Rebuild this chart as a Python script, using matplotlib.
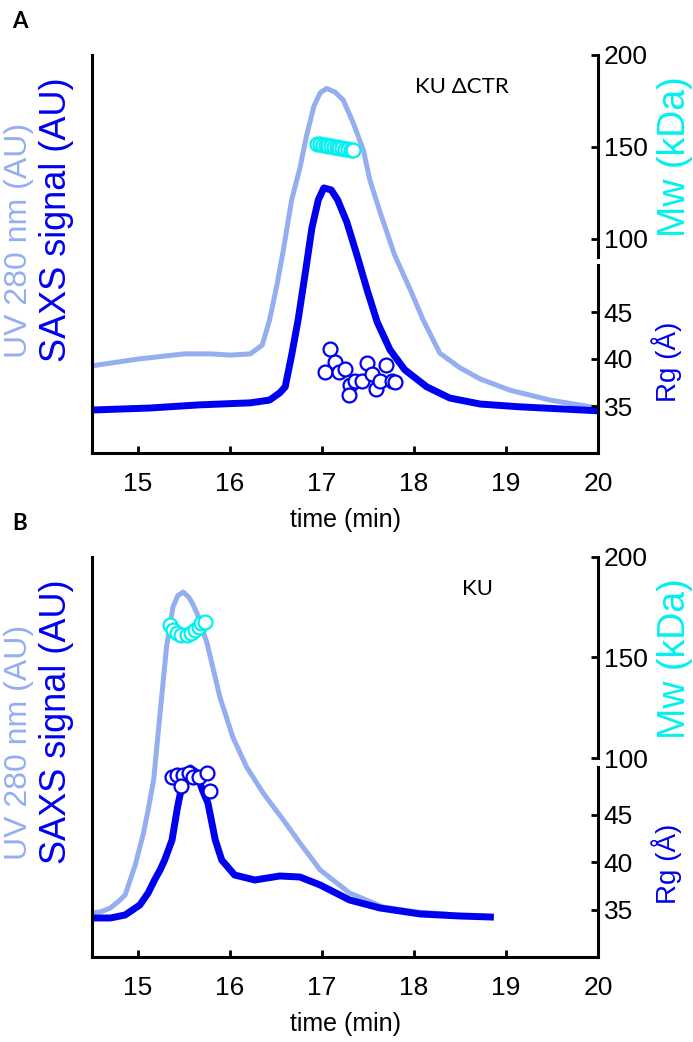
import matplotlib
matplotlib.use("Agg")
import matplotlib.pyplot as plt

UV_COLOR = "#94aef0"
SAXS_COLOR = "#0000f0"
MW_COLOR = "#00f0f0"

# ---- panel A : KU dCTR ----
a_uv_t = [14.5, 15.0, 15.5, 15.8, 16.0, 16.22, 16.35, 16.43, 16.51, 16.58, 16.67, 16.76, 16.83,
          16.91, 16.98, 17.05, 17.14, 17.23, 17.34, 17.45, 17.52, 17.63, 17.79, 17.96, 18.1,
          18.28, 18.5, 18.72, 19.04, 19.48, 20.0]
a_uv = [21.9, 23.6, 24.9, 24.9, 24.6, 24.9, 27.1, 33.4, 42.2, 51.0, 63.6, 71.6, 79.5,
        87.0, 90.5, 91.6, 90.7, 88.7, 82.9, 76.1, 68.6, 60.6, 49.7, 41.0, 33.4,
        25.1, 21.4, 18.6, 15.8, 13.3, 11.3]
a_saxs_t = [14.5, 15.13, 15.67, 16.22, 16.43, 16.54, 16.6, 16.67, 16.74, 16.82, 16.89, 16.96,
            17.02, 17.1, 17.17, 17.27, 17.38, 17.49, 17.6, 17.74, 17.9, 18.14, 18.39,
            18.72, 19.15, 20.0]
a_saxs = [10.8, 11.3, 12.1, 12.6, 13.3, 15.1, 16.6, 24.6, 33.4, 45.5, 56.5, 63.6,
          66.6, 66.1, 63.6, 58.0, 49.7, 41.0, 32.9, 25.9, 20.9, 16.6, 13.8,
          12.3, 11.6, 10.6]
a_mw_t = [16.95, 16.98, 17.01, 17.04, 17.07, 17.10, 17.13, 17.16, 17.19, 17.22, 17.25, 17.28, 17.31, 17.34]
a_mw = [151.5, 151.4, 151.0, 150.8, 150.5, 150.3, 150.0, 149.8, 149.5, 149.3, 149.0, 148.8, 148.5, 148.2]
a_rg_t = [17.09, 17.14, 17.03, 17.18, 17.25, 17.30, 17.29, 17.36, 17.43, 17.49, 17.54, 17.59, 17.63, 17.70, 17.76, 17.79]
a_rg = [41.1, 39.7, 38.6, 38.6, 38.9, 37.2, 36.2, 37.7, 37.7, 39.6, 38.4, 36.8, 37.7, 39.4, 37.7, 37.6]

# ---- panel B : KU ----
b_uv_t = [14.5, 14.59, 14.7, 14.78, 14.86, 14.97, 15.06, 15.11, 15.17, 15.24, 15.31, 15.38,
          15.43, 15.49, 15.55, 15.59, 15.64, 15.75, 15.82, 15.89, 16.03, 16.18, 16.36, 16.58,
          16.76, 16.98, 17.30, 17.66, 18.03, 18.34]
b_uv = [11.0, 11.25, 12.25, 13.75, 15.5, 23.0, 31.0, 36.75, 44.25, 61.0, 77.5, 87.5,
        90.25, 91.25, 90.0, 88.5, 86.0, 78.5, 71.75, 65.0, 55.0, 47.5, 41.0, 34.25,
        28.5, 21.75, 16.0, 12.5, 11.25, 10.75]
b_saxs_t = [14.5, 14.7, 14.86, 15.02, 15.11, 15.18, 15.24, 15.29, 15.37, 15.43, 15.49, 15.57,
            15.63, 15.70, 15.76, 15.84, 15.91, 16.05, 16.27, 16.54, 16.76, 16.98, 17.30,
            17.63, 18.07, 18.5, 18.83]
b_saxs = [9.75, 9.75, 10.5, 13.0, 16.0, 19.25, 21.75, 24.25, 29.25, 37.5, 44.25, 47.25,
          46.25, 41.75, 38.5, 29.25, 24.25, 20.5, 19.25, 20.25, 20.0, 18.0, 14.25,
          12.25, 10.75, 10.25, 10.0]
b_mw_t = [15.35, 15.38, 15.42, 15.47, 15.53, 15.58, 15.62, 15.66, 15.69, 15.73]
b_mw = [166.2, 163.7, 162.0, 161.2, 161.2, 162.0, 163.7, 165.3, 167.0, 167.8]
b_rg_t = [15.37, 15.42, 15.49, 15.55, 15.47, 15.60, 15.66, 15.75, 15.78]
b_rg = [49.0, 49.2, 49.2, 49.4, 48.0, 48.9, 49.0, 49.4, 47.5]

plt.rcParams["font.family"] = ["Liberation Sans", "DejaVu Sans"]

W, H = 693, 1042
fig = plt.figure(figsize=(W / 100, H / 100), dpi=100)


def rect(x0, x1, ytop, ybot):
    # pixel box -> figure fraction
    return [x0 / W, 1 - ybot / H, (x1 - x0) / W, (ybot - ytop) / H]


def side_axis(r, lim, ticks):
    a = fig.add_axes(r)
    a.patch.set_visible(False)
    a.set_xlim(14.5, 20)
    a.set_ylim(*lim)
    for s in ["top", "bottom", "left"]:
        a.spines[s].set_visible(False)
    a.spines["right"].set_linewidth(2.2)
    a.set_xticks([])
    a.yaxis.tick_right()
    a.set_yticks(ticks)
    a.tick_params(axis="y", direction="in", length=5, width=2, labelsize=19, pad=4)
    return a


def panel(top, bot, mw_bot, rg_top, mw_lim, d, name, name_x, letter):
    uv_t, uv, sx_t, sx, mw_t, mw, rg_t, rg = d
    ax = fig.add_axes(rect(92, 598, top, bot))
    ax.set_xlim(14.5, 20)
    ax.set_ylim(0, 100)
    ax.spines["top"].set_visible(False)
    ax.spines["right"].set_visible(False)
    ax.spines["left"].set_linewidth(2.2)
    ax.spines["bottom"].set_linewidth(2.2)
    ax.set_yticks([])
    ax.set_xticks([15, 16, 17, 18, 19, 20])
    ax.tick_params(axis="x", direction="in", length=5, width=2, labelsize=19, pad=14)
    ax.set_xlabel("time (min)", fontsize=18, labelpad=8)
    ax.plot(uv_t, uv, color=UV_COLOR, lw=3.6, solid_joinstyle="round")
    ax.plot(sx_t, sx, color=SAXS_COLOR, lw=5, solid_joinstyle="round")

    ax_mw = side_axis(rect(92, 598, top, mw_bot), mw_lim, [100, 150, 200])
    ax_mw.plot(mw_t, mw, "o", ms=10, mfc="white", mec=MW_COLOR, mew=1.6, clip_on=False)
    ax_rg = side_axis(rect(92, 598, rg_top, bot), (30, 50), [35, 40, 45])
    ax_rg.plot(rg_t, rg, "o", ms=10, mfc="white", mec=SAXS_COLOR, mew=1.6, clip_on=False)

    fig.text(19 / W, 1 - (top + 185) / H, "UV 280 nm (AU)", color=UV_COLOR, fontsize=23,
             rotation=90, ha="center", va="center")
    fig.text(57 / W, 1 - (top + 165) / H, "SAXS signal (AU)", color=SAXS_COLOR, fontsize=26,
             rotation=90, ha="center", va="center")
    fig.text(675 / W, 1 - (top + 102) / H, "Mw (kDa)", color=MW_COLOR, fontsize=27,
             rotation=90, ha="center", va="center")
    fig.text(667 / W, 1 - (rg_top + 97) / H, "Rg (Å)", color=SAXS_COLOR, fontsize=20,
             rotation=90, ha="center", va="center")
    fig.text(12 / W, 1 - (top - 33) / H, letter, fontsize=16, fontweight="bold", ha="left",
             va="center", family=["Lato", "DejaVu Sans"])
    ax.text(name_x, 0.92, name, transform=ax.transAxes, fontsize=16, ha="left", va="center",
            family=["Lato", "DejaVu Sans"])


panel(55, 453, 257, 265, (90, 200),
      (a_uv_t, a_uv, a_saxs_t, a_saxs, a_mw_t, a_mw, a_rg_t, a_rg), "KU ΔCTR", 0.638, "A")
panel(557, 957, 758, 767, (100, 200),
      (b_uv_t, b_uv, b_saxs_t, b_saxs, b_mw_t, b_mw, b_rg_t, b_rg), "KU", 0.731, "B")

fig.savefig("out.png", dpi=100)
